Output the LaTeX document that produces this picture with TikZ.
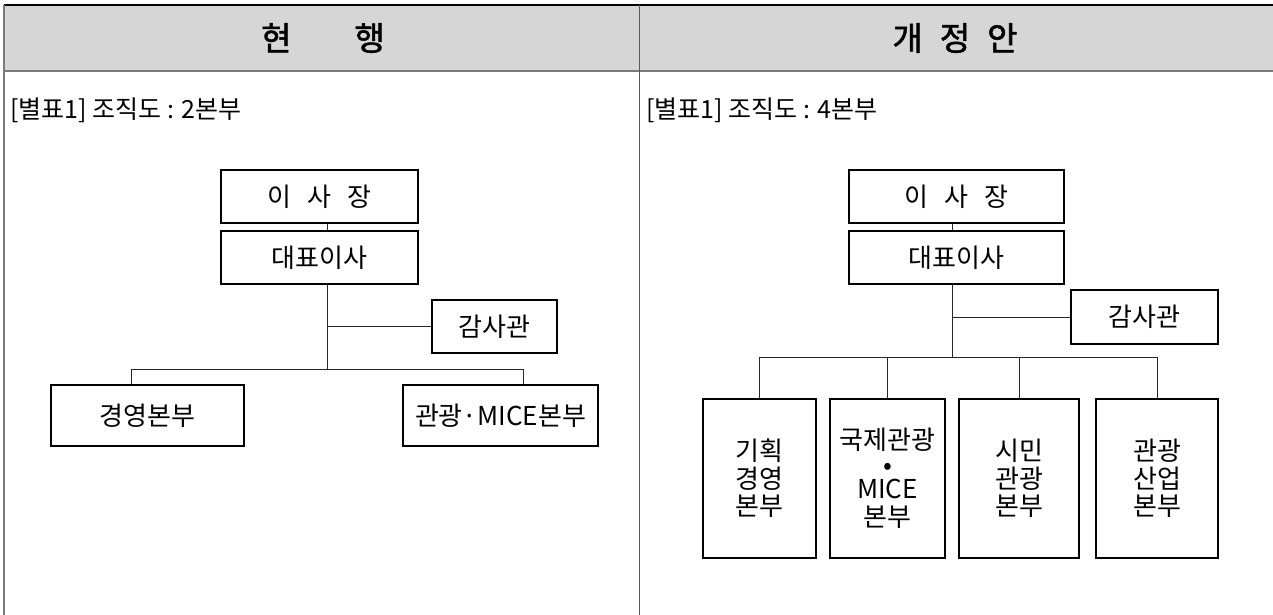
\documentclass[tikz,border=0pt]{standalone}
\usepackage{fontspec}
\setmainfont{Noto Sans CJK KR}
\newfontfamily\headfont[FakeBold=1.6]{Noto Sans CJK KR}
\definecolor{headgray}{HTML}{D6D6D6}
\definecolor{rulegray}{HTML}{7A7A7A}
\tikzset{
  orgbox/.style={draw=black, line width=1.3pt, fill=white, inner sep=0pt,
    align=center, font=\fontsize{26}{27.5}\selectfont},
  link/.style={draw=black!85, line width=1pt},
  headtext/.style={font=\headfont\fontsize{33}{36}\selectfont, inner sep=0pt},
  lbl/.style={font=\fontsize{25}{28}\selectfont, inner sep=0pt},
}
\begin{document}
\begin{tikzpicture}[x=1pt,y=-1pt]
\useasboundingbox (0,0) rectangle (1273,615);
% table frame
\fill[headgray] (4,5) rectangle (1273,71);
\draw[black, line width=1.5pt] (4,5) -- (1273,5);
\draw[rulegray, line width=2pt] (4,71) -- (1273,71);
\draw[rulegray, line width=1.2pt] (4,5) -- (4,615);
\draw[black!65, line width=1pt] (639.5,5) -- (639.5,615);
% headings
\node[headtext] (h1) at (323,38) {현\hspace{63pt}행};
\node[headtext] (h2) at (955,38) {개\hspace{17pt}정\hspace{17pt}안};
\node[lbl, anchor=west] (l1) at (10,110) {[별표1]\hspace{6pt}조직도 : 2본부};
\node[lbl, anchor=west] (l2) at (646,110) {[별표1]\hspace{6pt}조직도 : 4본부};
% left chart
\node[orgbox, minimum width=197pt, minimum height=53pt] (ceo1) at (319.5,196.5) {이\hspace{16pt}사\hspace{16pt}장};
\node[orgbox, minimum width=197pt, minimum height=53pt] (rep1) at (319.5,257.5) {대표이사};
\node[orgbox, minimum width=125pt, minimum height=53pt] (aud1) at (494.5,326.5) {감사관};
\node[orgbox, minimum width=193pt, minimum height=61pt] (d1a) at (147.5,415.5) {경영본부};
\node[orgbox, minimum width=195pt, minimum height=61pt] (d1b) at (500.5,415.5) {관광·MICE본부};
\coordinate (s1) at (327,369);
\coordinate (t1a) at (131,369);
\coordinate (t1b) at (523,369);
\draw[link] (ceo1.south -| s1) -- (rep1.north -| s1);
\draw[link] (rep1.south -| s1) -- (s1);
\draw[link] (aud1.west) -- (aud1.west -| s1);
\draw[link] (t1a |- d1a.north) -- (t1a) -- (t1b) -- (t1b |- d1b.north);
% right chart
\node[orgbox, minimum width=215pt, minimum height=53pt] (ceo2) at (956.5,196.5) {이\hspace{16pt}사\hspace{16pt}장};
\node[orgbox, minimum width=215pt, minimum height=53pt] (rep2) at (956.5,257.5) {대표이사};
\node[orgbox, minimum width=147pt, minimum height=54pt] (aud2) at (1144.5,317) {감사관};
\node[orgbox, minimum width=113pt, minimum height=159pt] (b1) at (759.5,478.5) {기획\\경영\\본부};
\node[orgbox, minimum width=115pt, minimum height=159pt] (b2) at (887.5,478.5) {국제관광\\[-3pt]•\\[-3pt]MICE\\본부};
\node[orgbox, minimum width=120pt, minimum height=159pt] (b3) at (1019,478.5) {시민\\관광\\본부};
\node[orgbox, minimum width=122pt, minimum height=159pt] (b4) at (1157,478.5) {관광\\산업\\본부};
\coordinate (s2) at (952,357);
\draw[link] (ceo2.south -| s2) -- (rep2.north -| s2);
\draw[link] (rep2.south -| s2) -- (s2);
\draw[link] (aud2.west) -- (aud2.west -| s2);
\draw[link] (b1.north) -- (b1.north |- s2) -- (b4.north |- s2) -- (b4.north);
\draw[link] (b2.north) -- (b2.north |- s2);
\draw[link] (b3.north) -- (b3.north |- s2);
\end{tikzpicture}
\end{document}
